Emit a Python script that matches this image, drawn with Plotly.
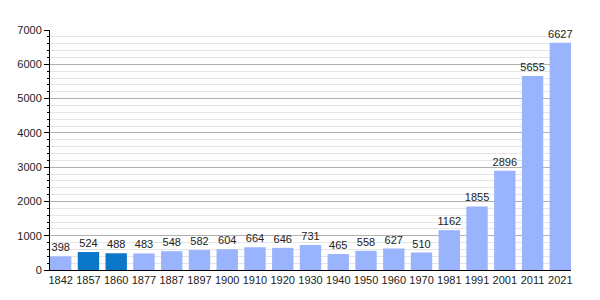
import plotly.graph_objects as go

years = ["1842", "1857", "1860", "1877", "1887", "1897", "1900", "1910", "1920", "1930",
         "1940", "1950", "1960", "1970", "1981", "1991", "2001", "2011", "2021"]
population = [398, 524, 488, 483, 548, 582, 604, 664, 646, 731,
              465, 558, 627, 510, 1162, 1855, 2896, 5655, 6627]
highlight = ["1857", "1860"]

light = "#99b3fd"
dark = "#0a77c8"
colors = [dark if y in highlight else light for y in years]

fig = go.Figure(go.Bar(
    x=years, y=population, marker=dict(color=colors, line=dict(width=0)),
    text=[str(v) for v in population], textposition="outside",
    textfont=dict(family="Liberation Sans, Arial", size=11, color="#222"),
    constraintext="none", cliponaxis=False, width=0.77,
))
n = len(years)
fig.update_layout(
    width=600, height=300, margin=dict(l=50, r=29, t=30, b=30),
    paper_bgcolor="white", plot_bgcolor="white", showlegend=False,
    font=dict(family="Liberation Sans, Arial", size=11, color="#222"),
    bargap=0.23,
)
fig.update_xaxes(type="category", range=[-0.5 + 0.115, n - 0.5 - 0.115],
                 showline=True, linecolor="black", linewidth=1, ticks="",
                 showgrid=False, tickfont=dict(size=11))
fig.update_yaxes(range=[0, 7000], dtick=1000, showline=True, linecolor="black", linewidth=1,
                 ticks="outside", ticklen=5, tickcolor="black", showgrid=True,
                 gridcolor="#b0b0b0", gridwidth=1, zeroline=False,
                 minor=dict(dtick=200, ticks="outside", ticklen=2, tickcolor="black",
                            showgrid=True, gridcolor="#e4e4e4", gridwidth=1),
                 tickfont=dict(size=11))
fig.write_html("out.html")
